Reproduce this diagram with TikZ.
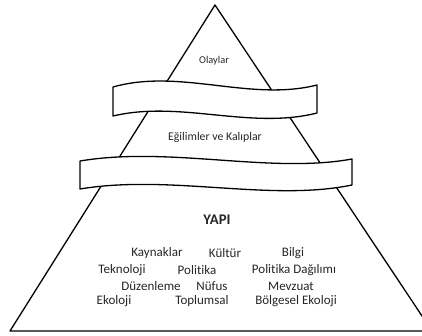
\documentclass[tikz,border=0pt]{standalone}
\usepackage{fontspec}
\setmainfont{Carlito}[Ligatures=NoCommon]
\begin{document}
\begin{tikzpicture}[x=1pt,y=-1pt,
  edge/.style={line width=1.3pt,line join=round},
  band/.style={line width=1.3pt,fill=white,line join=round},
  lbl/.style={text=black!85,inner sep=0pt,anchor=center,font=\fontsize{13}{15}\selectfont}]
\useasboundingbox (0,0) rectangle (422,336);
\clip (0,0) rectangle (422,336);
% pyramid
\draw[edge] (215,5) -- (10,331) -- (432,331) -- cycle;
% upper banner
\draw[band] (113,87) .. controls (180,68) and (250,102) .. (317,85)
  -- (317,113) .. controls (250,130) and (180,100) .. (113,116) -- cycle;
% lower banner
\draw[band] (80,161) .. controls (170,146) and (270,174) .. (352,159)
  -- (352,185) .. controls (270,202) and (170,174) .. (80,189) -- cycle;
% texts
\node[lbl,font=\fontsize{10.4}{12}\selectfont] (olay) at (214,61) {Olaylar};
\node[lbl,font=\fontsize{11.8}{14}\selectfont] (egil) at (215,137) {Eğilimler ve Kalıplar};
\node[lbl,font=\fontsize{14.7}{17}\selectfont\bfseries] (yapi) at (217,220) {YAPI};
\node[lbl] (kayn) at (157,253) {Kaynaklar};
\node[lbl] (kult) at (225,253) {Kültür};
\node[lbl] (bilg) at (293,253) {Bilgi};
\node[lbl] (tekn) at (122,270) {Teknoloji};
\node[lbl] (poli) at (197,270) {Politika};
\node[lbl] (pdag) at (294,270) {Politika Dağılımı};
\node[lbl] (duze) at (151,286) {Düzenleme};
\node[lbl] (nufu) at (212,286) {Nüfus};
\node[lbl] (mevz) at (291,286) {Mevzuat};
\node[lbl] (ekol) at (114,301) {Ekoloji};
\node[lbl] (topl) at (202,301) {Toplumsal};
\node[lbl] (bolg) at (296,301) {Bölgesel Ekoloji};
\end{tikzpicture}
\end{document}
